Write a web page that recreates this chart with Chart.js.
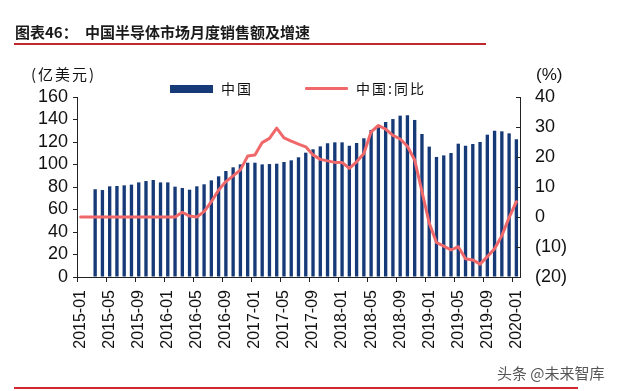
<!DOCTYPE html>
<html><head><meta charset="utf-8">
<script src="https://cdn.jsdelivr.net/npm/chart.js@4/dist/chart.umd.min.js"></script>
<style>
html,body{margin:0;padding:0;background:#fff}
body{width:622px;height:391px;position:relative;overflow:hidden;font-family:"Noto Sans CJK SC","Noto Sans",sans-serif}
.t{position:absolute;white-space:nowrap;line-height:1}
#c{position:absolute;left:0;top:0}
</style></head><body>
<canvas id="c" width="622" height="391"></canvas>
<div class="t" style="left:15px;top:24px;font-size:15px;font-weight:bold;color:#1a1a1a">图表46：</div>
<div class="t" style="left:85px;top:24px;font-size:15px;font-weight:bold;color:#1a1a1a;letter-spacing:0px">中国半导体市场月度销售额及增速</div>
<div style="position:absolute;left:14px;top:43px;width:472px;height:2px;background:#c0282d"></div>
<div class="t" style="left:31px;top:66px;font-size:15px;color:#111;letter-spacing:2px">(亿美元)</div>
<div class="t" style="left:536px;top:66px;font-size:17px;color:#111;font-family:'Liberation Sans',Arial,sans-serif">(%)</div>
<div style="position:absolute;left:170px;top:85px;width:43px;height:8px;background:#163a78"></div>
<div class="t" style="left:221px;top:81px;font-size:14px;color:#111;letter-spacing:2px">中国</div>
<div style="position:absolute;left:305px;top:87px;width:43px;height:3px;background:#f0686a;border-radius:1px"></div>
<div class="t" style="left:356px;top:81px;font-size:14px;color:#111;letter-spacing:2px">中国:同比</div>
<div class="t" style="left:497px;top:365px;font-size:15px;color:#555">头条 @未来智库</div>
<div style="position:absolute;left:14px;top:387px;width:564px;height:2px;background:#d0282d"></div>
<script>
const months = [];
for (let y = 2015; y <= 2020; y++) {
  for (let m = 1; m <= 12; m++) {
    if (y === 2020 && m > 1) break;
    months.push(y + '-' + String(m).padStart(2, '0'));
  }
}
// 中国 monthly sales (亿美元), 2015-01 .. 2020-01 (first two months not shown)
const salesChina = [
  null, null, 78.0, 77.3, 80.6, 80.9, 81.5, 82.1, 84.1, 85.3, 86.2, 84.1,
  84.1, 80.3, 79.1, 77.6, 80.6, 82.4, 85.9, 89.5, 94.2, 97.5, 100.1, 101.6,
  101.6, 100.1, 100.4, 100.7, 102.2, 103.7, 106.4, 110.5, 113.5, 116.1, 118.8, 119.7,
  119.7, 116.7, 119.1, 123.3, 130.7, 134.8, 137.8, 140.4, 143.4, 143.7, 139.6, 127.1,
  115.9, 106.7, 108.1, 110.2, 118.5, 116.7, 118.2, 120.0, 126.5, 130.1, 129.5, 127.7,
  122.4
];
// 中国:同比 (%)
const yoyChina = [
  0, 0, 0, 0, 0, 0, 0, 0, 0, 0, 0, 0,
  0, 0, 1.6, 0.3, 0, 1.8, 5.1, 9.0, 11.8, 13.7, 15.7, 20.3,
  20.7, 24.8, 26.2, 29.6, 26.4, 25.3, 24.3, 23.4, 20.7, 19.2, 18.7, 18.2,
  18.2, 16.2, 18.4, 21.2, 28.4, 30.5, 29.3, 27.2, 26.0, 23.6, 19.0, 8.5,
  -2.0, -8.5, -9.7, -11.0, -9.9, -13.9, -14.3, -15.7, -13.2, -10.6, -6.2, -0.2,
  5.1
];
const leftTicks = { min: 0, max: 160, step: 20 };
const rightTicks = { min: -20, max: 40, step: 10 };

const axisColor = '#222';
const numFont = { family: "'Liberation Sans', Arial, sans-serif", size: 18 };

const innerTicks = {
  id: 'innerTicks',
  afterDraw(chart) {
    const s = chart.scales.y1, ctx = chart.ctx;
    ctx.save();
    ctx.strokeStyle = axisColor; ctx.lineWidth = 1;
    for (let v = rightTicks.min; v <= rightTicks.max; v += rightTicks.step) {
      const py = Math.round(s.getPixelForValue(v)) + 0.5;
      ctx.beginPath(); ctx.moveTo(s.left - 4, py); ctx.lineTo(s.left, py); ctx.stroke();
    }
    ctx.restore();
  }
};

new Chart(document.getElementById('c'), {
  data: {
    labels: months,
    datasets: [
      { type: 'line', label: '中国:同比', data: yoyChina, yAxisID: 'y1', order: 0,
        borderColor: '#f0686a', borderWidth: 3, pointRadius: 0, tension: 0,
        borderJoinStyle: 'round', borderCapStyle: 'round' },
      { type: 'bar', label: '中国', data: salesChina, yAxisID: 'y', order: 1,
        backgroundColor: '#163a78', barPercentage: 0.46, categoryPercentage: 1 }
    ]
  },
  options: {
    responsive: false, animation: false, devicePixelRatio: 1,
    layout: { padding: { top: 97, left: 0, right: 0, bottom: 0 } },
    plugins: { legend: { display: false }, tooltip: { enabled: false } },
    scales: {
      x: {
        offset: true,
        afterFit(s) { s.height = 114; },
        border: { display: true, color: axisColor, width: 1 },
        grid: {
          offset: true, drawOnChartArea: false, drawTicks: true, tickLength: 5,
          color: c => (c.index % 4 === 0 ? axisColor : 'rgba(0,0,0,0)'),
          tickColor: c => (c.index % 4 === 0 ? axisColor : 'rgba(0,0,0,0)')
        },
        ticks: {
          autoSkip: false, maxRotation: 90, minRotation: 90, padding: 8,
          color: '#111', font: { family: "'Liberation Sans', Arial, sans-serif", size: 16 },
          callback: (v, i) => (i % 4 === 0 ? months[i] : '')
        }
      },
      y: {
        position: 'left', min: leftTicks.min, max: leftTicks.max,
        afterFit(s) { s.width = 77; },
        border: { display: true, color: axisColor, width: 1 },
        grid: { drawOnChartArea: false, drawTicks: true, tickLength: 4, color: axisColor },
        ticks: { stepSize: leftTicks.step, autoSkip: false, padding: 5, color: '#111', font: numFont }
      },
      y1: {
        position: 'right', min: rightTicks.min, max: rightTicks.max,
        afterFit(s) { s.width = 102; },
        border: { display: true, color: axisColor, width: 1 },
        grid: { drawOnChartArea: false, drawTicks: false },
        ticks: { stepSize: rightTicks.step, autoSkip: false, padding: 15, color: '#111', font: numFont,
          callback: v => (v < 0 ? '(' + (-v) + ')' : String(v)) }
      }
    }
  },
  plugins: [innerTicks]
});
</script>
</body></html>
